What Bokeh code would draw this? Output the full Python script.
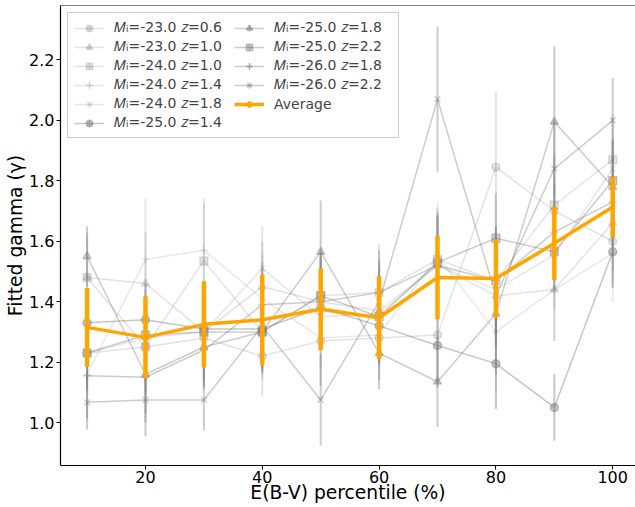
import numpy as np
from bokeh.plotting import figure
from bokeh.models import (ColumnDataSource, Legend, LegendItem, FixedTicker, Range1d,
                          NumeralTickFormatter, Span)
from bokeh.embed import file_html
from bokeh.resources import INLINE

percentiles = [10, 20, 30, 40, 50, 60, 70, 80, 90, 100]

labels = [
    "𝑀ᵢ=-23.0 𝑧=0.6", "𝑀ᵢ=-23.0 𝑧=1.0", "𝑀ᵢ=-24.0 𝑧=1.0", "𝑀ᵢ=-24.0 𝑧=1.4",
    "𝑀ᵢ=-24.0 𝑧=1.8", "𝑀ᵢ=-25.0 𝑧=1.4", "𝑀ᵢ=-25.0 𝑧=1.8", "𝑀ᵢ=-25.0 𝑧=2.2",
    "𝑀ᵢ=-26.0 𝑧=1.8", "𝑀ᵢ=-26.0 𝑧=2.2",
]

s1 = [1.23, 1.25, 1.28, 1.22, 1.27, 1.28, 1.29, 1.845, 1.70, 1.60]
s2 = [1.48, 1.46, 1.30, 1.45, 1.40, 1.37, 1.52, 1.42, 1.44, 1.66]
s3 = [1.48, 1.25, 1.535, 1.30, 1.42, 1.43, 1.54, 1.47, 1.72, 1.87]
s4 = [1.16, 1.54, 1.57, 1.41, 1.28, 1.29, 1.55, 1.30, 1.44, 1.56]
s5 = [1.23, 1.28, 1.30, 1.51, 1.35, 1.36, 1.52, 1.44, 1.555, 1.84]
s6 = [1.33, 1.34, 1.31, 1.31, 1.38, 1.32, 1.255, 1.195, 1.05, 1.565]
s7 = [1.55, 1.16, 1.25, 1.30, 1.565, 1.23, 1.135, 1.36, 1.995, 1.78]
s8 = [1.23, 1.29, 1.30, 1.30, 1.42, 1.35, 1.53, 1.61, 1.565, 1.80]
s9 = [1.155, 1.15, 1.24, 1.39, 1.40, 1.43, 1.52, 1.47, 1.63, 1.73]
s10 = [1.067, 1.075, 1.075, 1.32, 1.075, 1.40, 2.07, 1.42, 1.84, 2.00]

e1 = [0.12, 0.15, 0.14, 0.13, 0.15, 0.14, 0.16, 0.25, 0.18, 0.14]
e2 = [0.15, 0.17, 0.16, 0.15, 0.16, 0.17, 0.18, 0.20, 0.17, 0.16]
e3 = [0.14, 0.16, 0.19, 0.16, 0.15, 0.16, 0.17, 0.18, 0.17, 0.15]
e4 = [0.16, 0.20, 0.17, 0.15, 0.16, 0.15, 0.18, 0.20, 0.17, 0.16]
e5 = [0.13, 0.16, 0.15, 0.14, 0.17, 0.15, 0.16, 0.19, 0.18, 0.17]
e6 = [0.11, 0.12, 0.12, 0.13, 0.12, 0.13, 0.14, 0.15, 0.11, 0.12]
e7 = [0.10, 0.13, 0.13, 0.14, 0.17, 0.12, 0.15, 0.20, 0.25, 0.15]
e8 = [0.12, 0.13, 0.12, 0.13, 0.14, 0.13, 0.15, 0.15, 0.13, 0.14]
e9 = [0.14, 0.15, 0.13, 0.14, 0.15, 0.14, 0.17, 0.18, 0.16, 0.15]
e10 = [0.09, 0.12, 0.10, 0.12, 0.15, 0.13, 0.24, 0.17, 0.16, 0.14]

avg = [1.315, 1.282, 1.325, 1.34, 1.375, 1.347, 1.48, 1.477, 1.593, 1.713]
avg_err = [0.13, 0.135, 0.143, 0.15, 0.135, 0.137, 0.138, 0.13, 0.12, 0.10]

series = [s1, s2, s3, s4, s5, s6, s7, s8, s9, s10]
errors = [e1, e2, e3, e4, e5, e6, e7, e8, e9, e10]
markers = ["circle", "triangle", "square", "cross", "x"] * 2
alphas = [0.22, 0.22, 0.22, 0.18, 0.2, 0.45, 0.4, 0.4, 0.4, 0.4]

Y_TOP = 2.38
p = figure(width=635, height=507, output_backend="svg", toolbar_location=None,
           x_range=Range1d(5.45, 103.9), y_range=Range1d(0.858, Y_TOP),
           min_border_left=60, min_border_right=0, min_border_top=5, min_border_bottom=42)
p.background_fill_color = "white"
p.border_fill_color = "white"
p.outline_line_color = None
p.xgrid.visible = False
p.ygrid.visible = False

items = []
for lab, ys, es, mk, al in zip(labels, series, errors, markers, alphas):
    ys = np.array(ys)
    es = np.array(es)
    src = ColumnDataSource(dict(x=percentiles, y=ys, lo=ys - es, hi=ys + es))
    p.segment(x0="x", y0="lo", x1="x", y1="hi", source=src, line_color="gray",
              line_alpha=al, line_width=2)
    ln = p.line("x", "y", source=src, line_color="gray", line_alpha=al, line_width=1.5)
    sc = p.scatter("x", "y", source=src, marker=mk, size=8, fill_color="gray",
                   line_color="gray", fill_alpha=al, line_alpha=al, line_width=1.5)
    bar = p.scatter("x", "y", source=src, marker="cross", size=0, line_color="gray",
                    line_alpha=al, line_width=1.5)
    items.append(LegendItem(label=lab, renderers=[ln, sc, bar]))

avg_np = np.array(avg)
aerr = np.array(avg_err)
asrc = ColumnDataSource(dict(x=percentiles, y=avg_np, lo=avg_np - aerr, hi=avg_np + aerr))
p.segment(x0="x", y0="lo", x1="x", y1="hi", source=asrc, line_color="#FFA500",
          line_width=4.5)
aln = p.line("x", "y", source=asrc, line_color="#FFA500", line_width=3.5)
abar = p.scatter("x", "y", source=asrc, marker="cross", size=0, line_color="#FFA500",
                 line_width=3.5)
items.append(LegendItem(label="Average", renderers=[aln, abar]))

legend = Legend(items=items, location="top_left", ncols=2,
                label_text_font="DejaVu Sans", label_text_font_size="14px",
                label_height=16, label_width=118, glyph_height=16, glyph_width=30,
                spacing=2, padding=6, margin=7, label_standoff=10,
                border_line_color="#cccccc", border_line_alpha=1,
                background_fill_color="white", background_fill_alpha=0.8)
p.add_layout(legend, "center")

p.add_layout(Span(location=Y_TOP, dimension="width", line_color="black", line_width=1.2))

p.xaxis.axis_label = "E(B-V) percentile (%)"
p.yaxis.axis_label = "Fitted gamma (γ)"
for ax in (p.xaxis, p.yaxis):
    ax.axis_label_text_font = "DejaVu Sans"
    ax.axis_label_text_font_size = "18.7px"
    ax.axis_label_text_font_style = "normal"
    ax.major_label_text_font = "DejaVu Sans"
    ax.major_label_text_font_size = "16px"
    ax.minor_tick_line_color = None
    ax.major_tick_in = 0
    ax.major_tick_out = 4
    ax.axis_line_color = "black"
    ax.axis_line_width = 1.2
    ax.major_tick_line_color = "black"
    ax.major_label_text_color = "black"
    ax.axis_label_text_color = "black"
    ax.major_label_standoff = 2
    ax.axis_label_standoff = 0
p.xaxis.axis_label_standoff = -4
p.xaxis.major_label_standoff = 1

open_file = "out.html"
p.xaxis.ticker = FixedTicker(ticks=[20, 40, 60, 80, 100])
p.yaxis.ticker = FixedTicker(ticks=[1.0, 1.2, 1.4, 1.6, 1.8, 2.0, 2.2])
p.yaxis.formatter = NumeralTickFormatter(format="0.0")

open(open_file, "w").write(file_html(p, INLINE))
